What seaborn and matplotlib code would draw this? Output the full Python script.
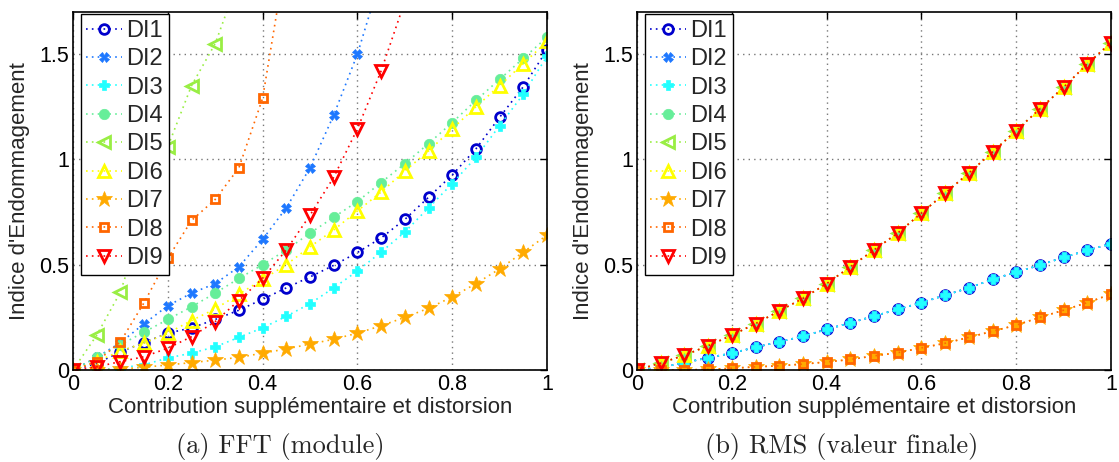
import numpy as np
import matplotlib
matplotlib.use("Agg")
import matplotlib.pyplot as plt
import seaborn as sns
from matplotlib.ticker import FuncFormatter

# abscisse commune
x = [0, 0.05, 0.1, 0.15, 0.2, 0.25, 0.3, 0.35, 0.4, 0.45, 0.5,
     0.55, 0.6, 0.65, 0.7, 0.75, 0.8, 0.85, 0.9, 0.95, 1.0]

labels = ["DI1", "DI2", "DI3", "DI4", "DI5", "DI6", "DI7", "DI8", "DI9"]

# (a) FFT (module)
fft_di1 = [0, 0.03, 0.087, 0.13, 0.175, 0.20, 0.24, 0.284, 0.336, 0.39, 0.442,
           0.497, 0.558, 0.627, 0.715, 0.82, 0.926, 1.05, 1.20, 1.345, 1.52]
fft_di2 = [0, 0.06, 0.13, 0.22, 0.305, 0.365, 0.41, 0.49, 0.62, 0.77, 0.96,
           1.21, 1.50, 1.87]
fft_di3 = [0, 0.0, 0.01, 0.025, 0.057, 0.08, 0.11, 0.155, 0.20, 0.255, 0.315,
           0.39, 0.47, 0.56, 0.655, 0.77, 0.885, 1.01, 1.16, 1.31, 1.49]
fft_di4 = [0, 0.06, 0.12, 0.18, 0.24, 0.30, 0.365, 0.435, 0.50, 0.57, 0.65,
           0.725, 0.80, 0.89, 0.98, 1.075, 1.175, 1.28, 1.38, 1.48, 1.58]
fft_di5 = [0, 0.165, 0.37, 0.72, 1.06, 1.35, 1.55, 1.86]
fft_di6 = [0, 0.04, 0.09, 0.128, 0.175, 0.235, 0.29, 0.36, 0.43, 0.50, 0.585,
           0.665, 0.755, 0.845, 0.945, 1.04, 1.145, 1.25, 1.35, 1.455, 1.56]
fft_di7 = [0, 0, 0.005, 0.013, 0.024, 0.035, 0.047, 0.06, 0.08, 0.10, 0.123,
           0.146, 0.175, 0.21, 0.25, 0.293, 0.347, 0.41, 0.48, 0.56, 0.64]
fft_di8 = [0, 0.04, 0.134, 0.32, 0.53, 0.71, 0.81, 0.96, 1.29, 1.97]
fft_di9 = [0, 0.015, 0.04, 0.063, 0.104, 0.158, 0.23, 0.33, 0.435, 0.57, 0.735,
           0.915, 1.145, 1.42, 1.75]

# (b) RMS (valeur finale) - trois groupes de courbes confondues
rms_haut = [0, 0.033, 0.07, 0.115, 0.165, 0.22, 0.28, 0.34, 0.41, 0.49, 0.57,
            0.65, 0.745, 0.84, 0.935, 1.035, 1.137, 1.24, 1.343, 1.453, 1.555]
rms_milieu = [0, 0.012, 0.035, 0.058, 0.08, 0.108, 0.134, 0.16, 0.193, 0.224, 0.256,
              0.288, 0.32, 0.355, 0.39, 0.43, 0.465, 0.498, 0.535, 0.568, 0.60]
rms_bas = [0, 0, 0.0, 0.003, 0.008, 0.015, 0.02, 0.028, 0.038, 0.05, 0.067,
           0.082, 0.105, 0.127, 0.155, 0.184, 0.213, 0.25, 0.284, 0.32, 0.36]

fft = [fft_di1, fft_di2, fft_di3, fft_di4, fft_di5, fft_di6, fft_di7, fft_di8, fft_di9]
rms = [rms_milieu, rms_milieu, rms_milieu, rms_haut, rms_haut, rms_haut,
       rms_bas, rms_bas, rms_haut]

colors = ["#0000CC", "#1E78FF", "#22FFFF", "#66EE99", "#99EE44",
          "#FFFF00", "#FFAA00", "#FF6600", "#FF0000"]
markers = ["o", "X", "P", "o", "<", "^", "*", "s", "v"]
filled = [False, True, True, True, False, False, True, False, False]
msizes = [7, 6.5, 7.5, 7.5, 8, 9, 12, 5.5, 9]

sns.set_style("white")
plt.rcParams["font.family"] = ["Liberation Sans", "DejaVu Sans"]

fig = plt.figure(figsize=(11.19, 4.62), dpi=100)
W, H = 1119, 462
ax1 = fig.add_axes([73 / W, (H - 370) / H, 474 / W, 358 / H])
ax2 = fig.add_axes([637 / W, (H - 370) / H, 474 / W, 358 / H])


def draw(ax, data):
    for i in range(9):
        vals = data[i]
        xs = x[:len(vals)]
        face = colors[i] if filled[i] else "none"
        sns.lineplot(x=xs, y=vals, ax=ax, color=colors[i], linestyle=(0, (1, 2.5)),
                     linewidth=1.2, marker=markers[i], markersize=msizes[i],
                     markerfacecolor=face, markeredgecolor=colors[i],
                     markeredgewidth=2 if not filled[i] else 0.5,
                     label=labels[i])
    ax.set_xlim(0, 1)
    ax.set_ylim(0, 1.7)
    ax.set_xticks([0, 0.2, 0.4, 0.6, 0.8, 1])
    ax.set_yticks([0, 0.5, 1, 1.5])
    fmt = FuncFormatter(lambda v, p: "%g" % v)
    ax.xaxis.set_major_formatter(fmt)
    ax.yaxis.set_major_formatter(fmt)
    ax.tick_params(direction="in", length=5, width=1, top=True, right=True,
                   labelsize=15.5, pad=3, colors="black")
    ax.grid(True, linestyle=(0, (1, 3)), color="#777777", linewidth=1)
    for s in ax.spines.values():
        s.set_color("black")
        s.set_linewidth(1.2)
    ax.set_xlabel("Contribution supplémentaire et distorsion", fontsize=16, labelpad=1)
    ax.set_ylabel("Indice d'Endommagement", fontsize=16, labelpad=6)
    leg = ax.legend(loc="upper left", bbox_to_anchor=(7.5 / 474, 1 - 2 / 358),
                    fontsize=17, frameon=True, fancybox=False,
                    framealpha=1, edgecolor="black", borderaxespad=0,
                    labelspacing=0.27, handlelength=1.5, handletextpad=0.2,
                    borderpad=0.25)
    leg.get_frame().set_linewidth(1)


draw(ax1, fft)
draw(ax2, rms)

fig.text(280 / W, (H - 446) / H, "(a) FFT (module)", ha="center", va="center",
         fontsize=19, family="cmr10")
fig.text(842 / W, (H - 446) / H, "(b) RMS (valeur finale)", ha="center", va="center",
         fontsize=19, family="cmr10")

fig.savefig("out.png", dpi=100)
